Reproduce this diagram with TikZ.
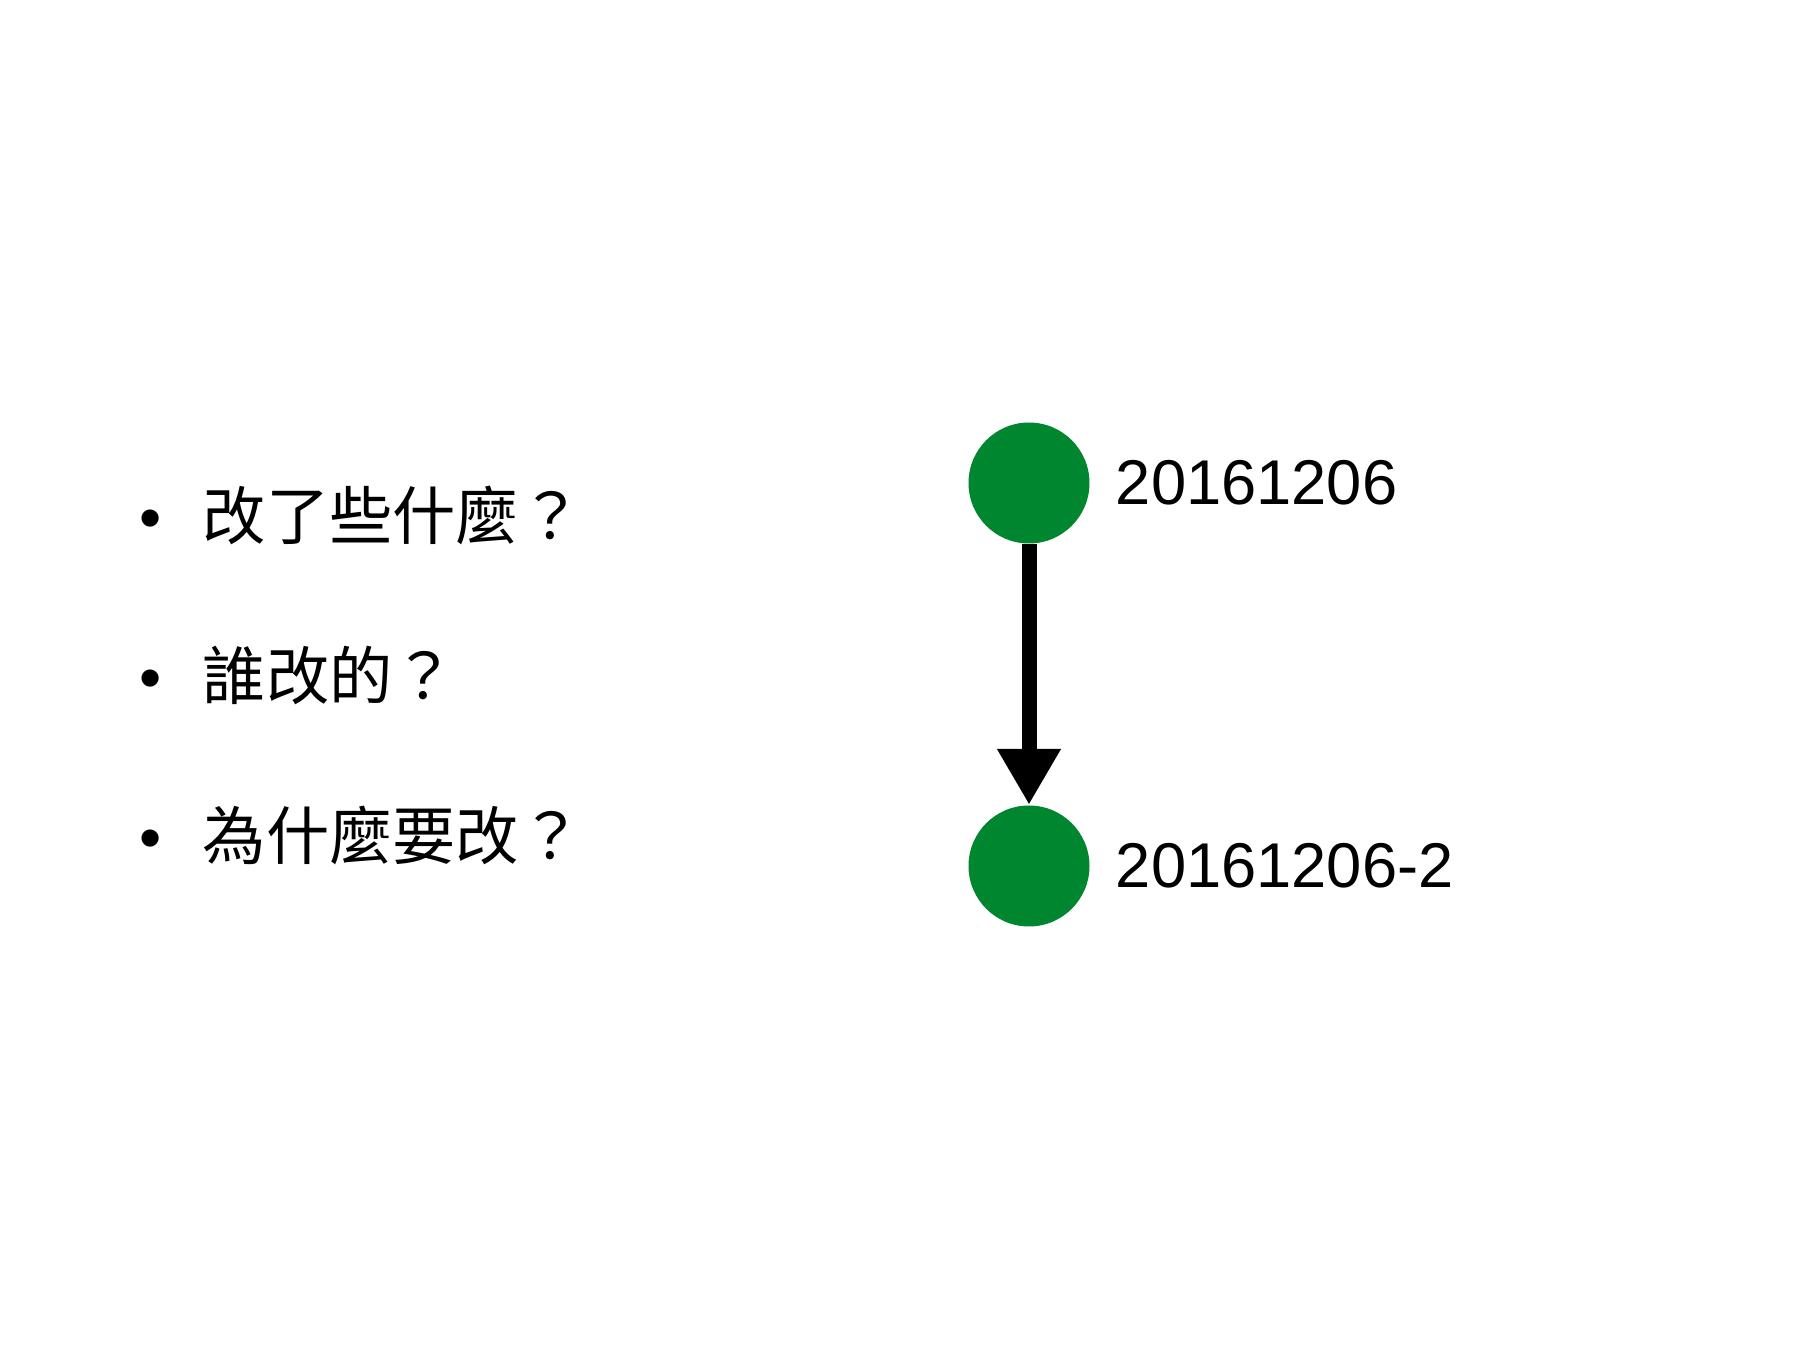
\documentclass[tikz,border=0pt]{standalone}
\usepackage{fontspec}
\setmainfont{Liberation Sans}
\newfontfamily\cjk{Noto Sans CJK TC}
\usetikzlibrary{positioning,arrows.meta}
\definecolor{commitgreen}{RGB}{0,134,46}

\begin{document}
\begin{tikzpicture}[every node/.style={font=\fontsize{18pt}{21pt}\selectfont, inner sep=0pt},
    commit/.style={circle, fill=commitgreen, minimum size=1.21cm},
    item/.style={anchor=west}]
        \useasboundingbox[fill=white] (0,0) rectangle (18,13.5);
        % questions
        \node[item] (q1) at (1.39, 8.35) {•\hspace{0.41cm}{\cjk 改了些什麼？}};
        \node[item] (q2) at (1.39, 6.75) {•\hspace{0.41cm}{\cjk 誰改的？}};
        \node[item] (q3) at (1.39, 5.15) {•\hspace{0.41cm}{\cjk 為什麼要改？}};
        % commits
        \node[commit] (c1) at (10.29, 8.67) {};
        \node[commit] (c2) at (10.29, 4.84) {};
        \draw[line width=0.15cm, -{Triangle[width=0.6cm, length=0.56cm]}] (c1) -- (c2);
        \node[right=0.25cm of c1] (l1) {20161206};
        \node[right=0.25cm of c2] (l2) {20161206-2};
    \end{tikzpicture}
\end{document}
